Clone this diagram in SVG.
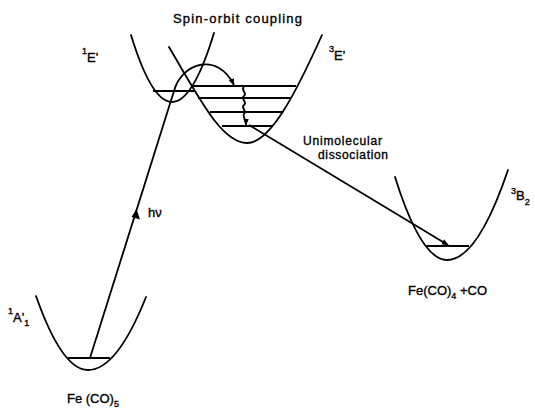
<svg xmlns="http://www.w3.org/2000/svg" width="535" height="408" viewBox="0 0 535 408">
<style>
.c{fill:none;stroke:#000;stroke-width:1.8;stroke-linecap:round}
.l{fill:none;stroke:#000;stroke-width:1.8}
.t{font-family:"Liberation Sans",Arial,sans-serif;font-size:13px;fill:#000;stroke:#000;stroke-width:0.35}
.s{font-size:9px}
.m{font-size:12px}
</style>
<defs>
<marker id="ah" viewBox="0 0 10 10" refX="9" refY="5" markerWidth="7" markerHeight="7" markerUnits="userSpaceOnUse" orient="auto">
<path d="M0,1 L10,5 L0,9 Z" fill="#000"/>
</marker>
</defs>
<rect width="535" height="408" fill="#fff"/>

<g id="well-1A1">
<path class="c" d="M36,296 Q62,370 88,370 Q117,370 146,297"/>
<line class="l" x1="68" y1="358" x2="110" y2="358"/>
<text class="t" x="8" y="322"><tspan class="s" dy="-8">1</tspan><tspan dy="8">A'</tspan><tspan class="s" dy="4">1</tspan></text>
<text class="t" x="67" y="403">Fe (CO)<tspan class="s" dy="4">5</tspan></text>
</g>

<g id="well-1E">
<path class="c" d="M131,35 Q151.5,102 172,102 Q193,102 214,33"/>
<line class="l" x1="153" y1="91" x2="195" y2="91"/>
<text class="t" x="82" y="62"><tspan class="s" dy="-8">1</tspan><tspan dy="8">E'</tspan></text>
</g>

<g id="well-3E">
<path class="c" d="M169,47 C200,100 222,143 247,143 C270,143 295,95 322,35"/>
<line class="l" x1="192" y1="86" x2="296" y2="86"/>
<line class="l" x1="198" y1="98" x2="291" y2="98"/>
<line class="l" x1="210" y1="112" x2="283" y2="112"/>
<line class="l" x1="222" y1="126" x2="272" y2="126"/>
<text class="t" x="329" y="60"><tspan class="s" dy="-8">3</tspan><tspan dy="8">E'</tspan></text>
</g>

<g id="well-3B2">
<path class="c" d="M395,177 Q421,260 447,260 Q477.5,260 508,170"/>
<line class="l" x1="425" y1="246" x2="469" y2="246"/>
<text class="t" x="511" y="200"><tspan class="s" dy="-6">3</tspan><tspan dy="6">B</tspan><tspan class="s" dy="5">2</tspan></text>
<text class="t" x="408" y="295">Fe(CO)<tspan class="s" dy="4">4</tspan><tspan dy="-4"> +CO</tspan></text>
</g>

<g id="connectors">
<line class="l" x1="90" y1="358" x2="174" y2="91"/>
<path d="M136.5,209 L140,219.5 L131.5,217 Z" fill="#000"/>
<path class="l" d="M174,91 C182,62 218,52 234,85" marker-end="url(#ah)"/>
<path class="l" d="M244,87 c-4,3 4,6 0,9 c-4,3 4,6 0,9 c-4,3 4,6 0,9 c-2,2 2,4 2,11" marker-end="url(#ah)"/>
<line class="l" x1="249" y1="125" x2="448" y2="245" marker-end="url(#ah)"/>
</g>

<text class="t" x="173" y="23" textLength="129" lengthAdjust="spacing">Spin-orbit coupling</text>
<text class="t" x="148" y="217">hν</text>
<text class="t m" x="303" y="145" textLength="79" lengthAdjust="spacing">Unimolecular</text>
<text class="t m" x="318" y="159" textLength="70" lengthAdjust="spacing">dissociation</text>
</svg>
